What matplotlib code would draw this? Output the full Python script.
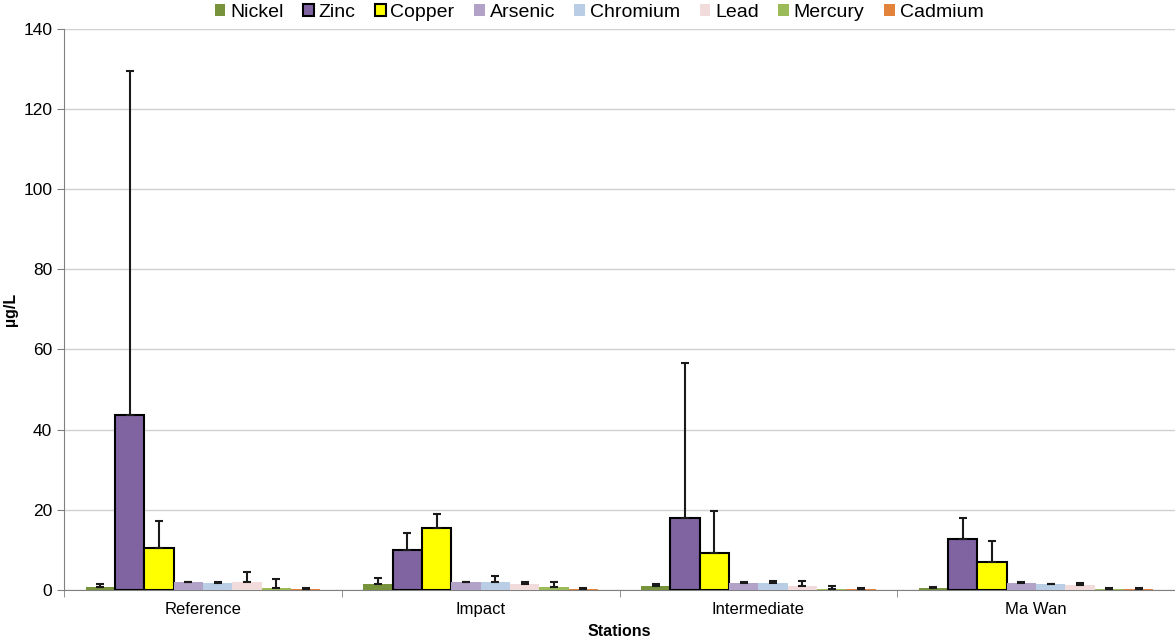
import matplotlib
matplotlib.use("Agg")
import numpy as np
import matplotlib.pyplot as plt

plt.rcParams['font.family'] = ['Liberation Sans', 'DejaVu Sans']

stations = ["Reference", "Impact", "Intermediate", "Ma Wan"]
metals = ["Nickel", "Zinc", "Copper", "Arsenic", "Chromium", "Lead", "Mercury", "Cadmium"]

# mean values per metal, one entry per station
nickel = [0.8, 1.5, 1.0, 0.5]
zinc = [43.7, 10.0, 18.0, 12.7]
copper = [10.4, 15.5, 9.3, 7.0]
arsenic = [1.9, 1.9, 1.7, 1.7]
chromium = [1.7, 2.0, 1.7, 1.5]
lead = [1.9, 1.5, 1.0, 1.2]
mercury = [0.6, 0.7, 0.25, 0.3]
cadmium = [0.2, 0.2, 0.2, 0.3]

# upper error (standard deviation)
nickel_err = [0.8, 1.6, 0.6, 0.15]
zinc_err = [85.8, 4.1, 38.5, 5.3]
copper_err = [6.9, 3.5, 10.5, 5.3]
arsenic_err = [0.2, 0.2, 0.2, 0.2]
chromium_err = [0.3, 1.6, 0.6, 0.1]
lead_err = [2.7, 0.6, 1.2, 0.6]
mercury_err = [2.1, 1.4, 0.65, 0.1]
cadmium_err = [0.2, 0.2, 0.2, 0.1]

values = [nickel, zinc, copper, arsenic, chromium, lead, mercury, cadmium]
errors = [nickel_err, zinc_err, copper_err, arsenic_err, chromium_err, lead_err, mercury_err, cadmium_err]
colors = ["#77933C", "#8064A2", "#FFFF00", "#B3A2C7", "#B9CDE5", "#F2DCDB", "#9BBB59", "#E3823A"]
edged = {"Zinc", "Copper"}

fig = plt.figure(figsize=(11.75, 6.44), dpi=100)
ax = fig.add_axes([0.0545, 0.0839, 0.9455, 0.8715])

x = np.arange(len(stations))
n = len(metals)
width = 0.845 / n

for i, (name, vals, errs, col) in enumerate(zip(metals, values, errors, colors)):
    pos = x - 0.4225 + width * (i + 0.5)
    ec = "black" if name in edged else "none"
    ax.bar(pos, vals, width, color=col, edgecolor=ec, linewidth=1.5, label=name, zorder=3)
    ax.errorbar(pos, vals, yerr=[np.zeros(len(vals)), errs], fmt="none",
                ecolor="#1a1a1a", elinewidth=1.5, capsize=3, capthick=1.5, zorder=4)

ax.set_xlim(-0.5, len(stations) - 0.5)
ax.set_ylim(0, 140)
ax.set_yticks(np.arange(0, 141, 20))
ax.set_xticks(x)
ax.set_xticklabels(stations, fontsize=12)
ax.set_xticks(np.arange(-0.5, len(stations)), minor=True)
ax.tick_params(axis="x", which="major", length=0, pad=9)
ax.tick_params(axis="x", which="minor", length=5, color="#808080", direction="out")
ax.tick_params(axis="y", length=5, color="#808080", labelsize=12.5)

ax.yaxis.grid(True, color="#d0d0d0", linewidth=1, zorder=0)
for s in ["top", "right"]:
    ax.spines[s].set_visible(False)
ax.spines["left"].set_color("#808080")
ax.spines["bottom"].set_color("#808080")
ax.axhline(140, color="#808080", linewidth=1.2, zorder=1)

ax.set_ylabel("\u00b5g/L", fontsize=11.5, fontweight="bold", labelpad=4)
ax.set_xlabel("Stations", fontsize=11.5, fontweight="bold", labelpad=5)

leg = ax.legend(loc="lower center", bbox_to_anchor=(0.4815, 0.993), ncol=n, frameon=False,
                fontsize=14, handlelength=0.55, handleheight=0.55, handletextpad=0.25,
                columnspacing=1.0, borderpad=0.1)

fig.savefig("out.png", dpi=100)
